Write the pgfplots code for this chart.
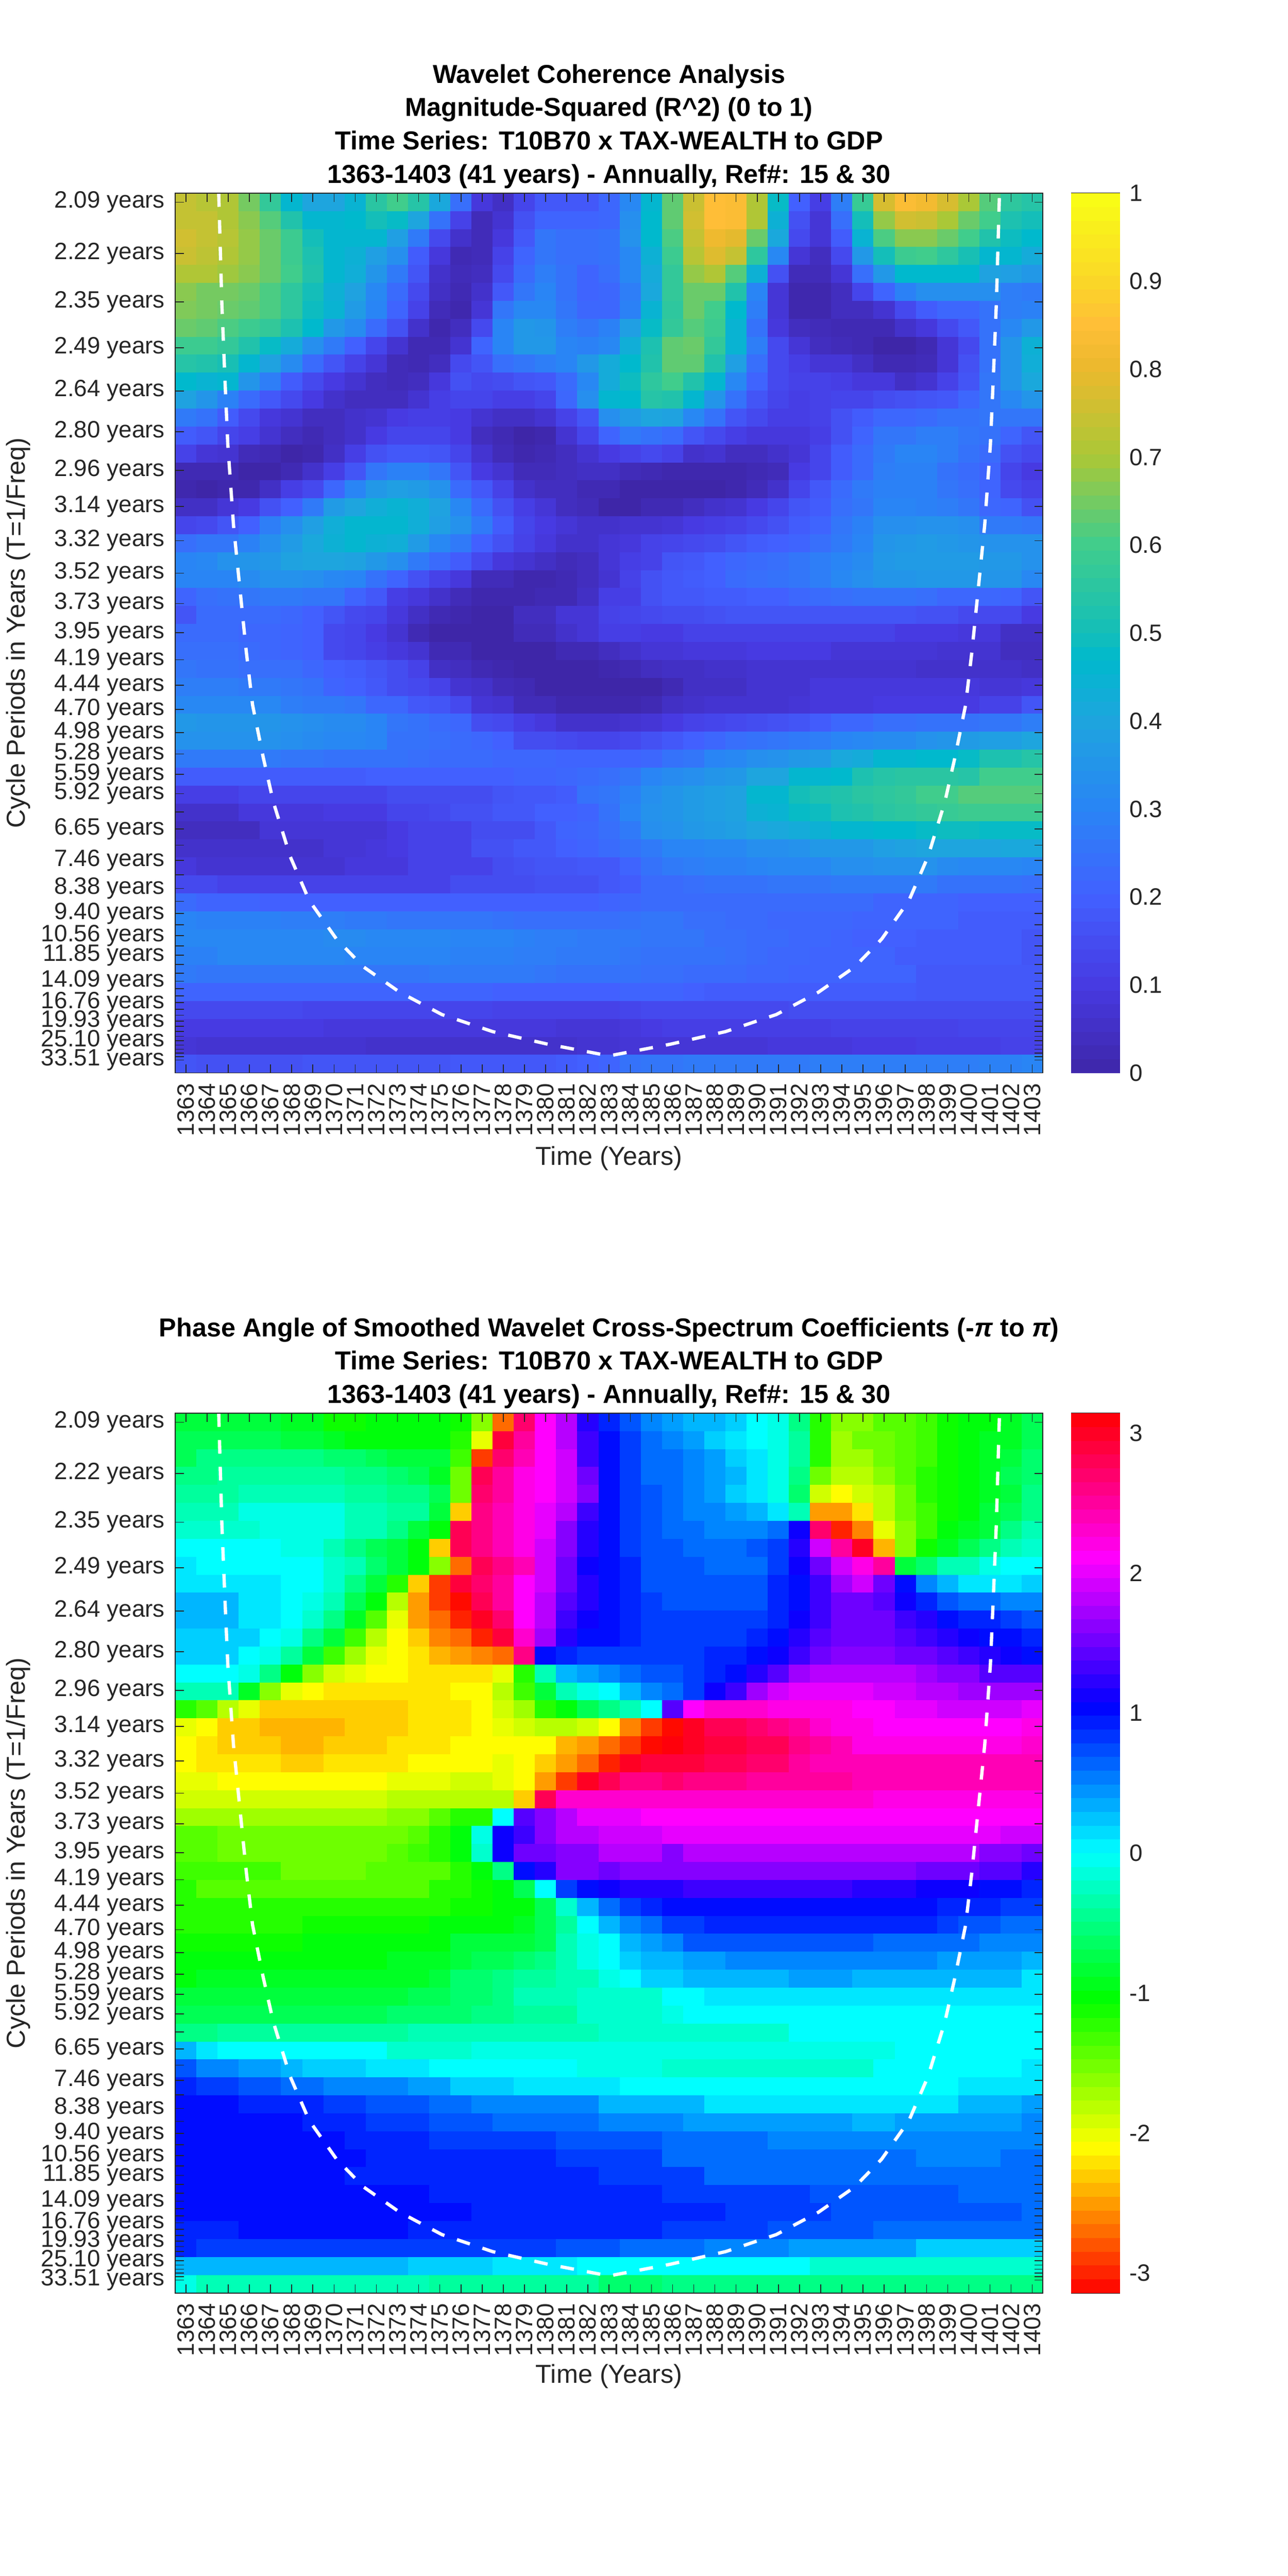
\documentclass[border=0pt]{standalone}
\usepackage{fontspec}
\setmainfont{Liberation Sans}
\usepackage{pgfplots}
\usepackage{pgfplotstable}
\pgfplotsset{compat=1.18}
\definecolor{tx}{rgb}{.15,.15,.15}
\pgfdeclareplotmark{cellmk}{\pgfpathrectangle{\pgfpoint{-3.24pt}{-2.755pt}}{\pgfpoint{6.48pt}{5.51pt}}\pgfusepathqfill}
\pgfdeclareplotmark{barmk}{\pgfpathrectangle{\pgfpoint{-7.4pt}{-2.11pt}}{\pgfpoint{14.8pt}{4.22pt}}\pgfusepathqfill}
\newcommand\tickfont{\fontsize{7.175}{7.5}\selectfont}
\pgfplotsset{
 colormap={coh}{rgb255(0pt)=(62,38,168); rgb255(10pt)=(71,58,226); rgb255(20pt)=(66,96,255); rgb255(30pt)=(41,133,245); rgb255(40pt)=(30,165,222); rgb255(47pt)=(0,185,205); rgb255(50pt)=(20,190,185); rgb255(60pt)=(64,205,140); rgb255(70pt)=(170,200,55); rgb255(80pt)=(235,185,45); rgb255(85pt)=(255,190,55); rgb255(90pt)=(250,215,40); rgb255(100pt)=(249,255,20)},
 colormap={ph}{rgb255(0pt)=(255,0,0); rgb255(1pt)=(255,255,0); rgb255(2pt)=(0,255,0); rgb255(3pt)=(0,255,255); rgb255(4pt)=(0,0,255); rgb255(5pt)=(255,0,255); rgb255(6pt)=(255,0,0)},
 base/.style={scale only axis, width=263.19pt, height=266.875pt, anchor=south west,
  xmin=1362.5, xmax=1403.5, ymin=0.5, ymax=49.5, y dir=reverse},
 frame/.style={base,
  tick align=inside, major tick length=2.6pt,
  axis line style={color=tx,line width=.3pt},
  tick style={color=tx,line width=.25pt},
  xtick={1363,1364,1365,1366,1367,1368,1369,1370,1371,1372,1373,1374,1375,1376,1377,1378,1379,1380,1381,1382,1383,1384,1385,1386,1387,1388,1389,1390,1391,1392,1393,1394,1395,1396,1397,1398,1399,1400,1401,1402,1403},
  xticklabels={1363,1364,1365,1366,1367,1368,1369,1370,1371,1372,1373,1374,1375,1376,1377,1378,1379,1380,1381,1382,1383,1384,1385,1386,1387,1388,1389,1390,1391,1392,1393,1394,1395,1396,1397,1398,1399,1400,1401,1402,1403},
  ytick={1.00,3.86,6.56,9.11,11.51,13.78,15.93,17.95,19.86,21.66,23.36,24.97,26.48,27.91,29.26,30.54,31.74,32.87,33.95,34.96,35.91,36.81,37.66,38.47,39.22,39.94,40.61,41.25,41.85,42.42,42.95,43.46,43.94,44.39,44.81,45.21,45.59,45.95,46.29,46.61,46.91,47.19,47.46,47.71,47.95,48.18,48.39,48.59,48.78},
  yticklabels={2.09 years,2.22 years,2.35 years,2.49 years,2.64 years,2.80 years,2.96 years,3.14 years,3.32 years,3.52 years,3.73 years,3.95 years,4.19 years,4.44 years,4.70 years,4.98 years,5.28 years,5.59 years,5.92 years,{},6.65 years,{},7.46 years,{},8.38 years,{},9.40 years,{},10.56 years,{},11.85 years,{},{},14.09 years,{},{},16.76 years,{},{},19.93 years,{},{},{},25.10 years,{},{},{},{},33.51 years},
  xticklabel style={yshift=-3pt,rotate=90,anchor=east,inner sep=0pt,text=tx,font=\tickfont},
  yticklabel style={xshift=-3pt,anchor=east,inner sep=0pt,text=tx,font=\tickfont},
 },
 barframe/.style={scale only axis, width=14.64pt, height=266.875pt, anchor=south west,
  xmin=0, xmax=1, xtick=\empty,
  tick align=inside, major tick length=2.6pt,
  axis line style={color=tx,line width=.3pt},
  tick style={color=tx,line width=.25pt},
  ytick pos=right, yticklabel pos=right,
  yticklabel style={xshift=2.75pt,anchor=west,inner sep=0pt,text=tx,font=\tickfont},
 },
 cell/.style={scatter, only marks, mark=cellmk, scatter src=explicit, scatter/use mapped color={draw=none,fill=mapped color}},
 bar/.style={scatter, only marks, mark=barmk, scatter src=explicit, scatter/use mapped color={draw=none,fill=mapped color}},
 coi/.style={white,line width=1pt,dash pattern=on 4.13pt off 4pt},
}
\pgfplotstableread[header=false]{
1 0
2 0
3 0
4 0
5 0
6 0
7 0
8 0
9 0
10 0
11 0
12 0
13 0
14 0
15 0
16 0
17 0
18 0
19 0
20 0
21 0
22 0
23 0
24 0
25 0
26 0
27 0
28 0
29 0
30 0
31 0
32 0
33 0
34 0
35 0
36 0
37 0
38 0
39 0
40 0
41 0
42 0
43 0
44 0
45 0
46 0
47 0
48 0
49 0
50 0
51 0
52 0
53 0
54 0
55 0
56 0
57 0
58 0
59 0
60 0
61 0
62 0
63 0
64 0
}\levels
\pgfplotstableread[header=false]{
74 72 71 65 57 46 40 40 45 55 60 54 41 24 9 5 13 18 18 18 22 31 46 63 75 85 84 71 48 20 11 28 58 77 84 82 77 70 62 56 54
74 74 71 67 62 53 46 46 47 50 48 40 25 12 3 7 16 21 21 21 22 33 47 63 76 85 84 71 44 16 8 24 50 68 76 75 70 64 60 52 50
76 74 72 68 64 59 50 46 46 46 38 27 14 6 3 9 18 26 24 24 25 34 47 61 74 81 79 64 41 14 8 19 45 61 67 67 64 60 53 49 47
75 73 71 68 64 59 52 46 44 38 33 19 9 2 3 12 21 26 24 24 25 31 44 59 72 78 74 56 31 8 4 14 36 50 59 60 56 51 46 46 42
71 71 69 67 64 60 53 46 43 35 27 17 6 3 4 14 23 28 25 21 24 31 42 57 68 71 62 44 16 3 3 8 24 36 47 47 47 47 39 38 36
67 65 65 64 61 56 50 44 39 31 23 14 5 2 6 18 26 30 25 21 22 28 41 57 64 64 53 30 8 1 1 4 13 21 29 33 33 33 33 28 27
66 65 64 63 61 56 49 45 37 30 21 12 3 1 8 26 31 31 26 22 22 29 45 56 64 60 47 28 8 1 1 4 4 7 14 19 22 22 25 28 29
64 63 61 59 57 52 47 36 32 23 16 6 1 4 14 30 36 35 28 26 29 38 48 57 62 59 45 25 9 4 3 2 2 2 6 9 14 18 25 31 36
59 59 57 53 48 42 33 27 20 13 7 2 2 7 21 30 36 36 30 29 31 43 52 63 64 57 45 28 14 8 4 3 2 0 0 2 8 14 25 35 44
54 53 51 46 39 32 23 17 12 8 3 2 4 14 17 24 26 28 30 36 42 47 53 63 63 53 38 24 14 11 8 8 5 2 2 3 8 16 25 35 43
47 45 46 35 28 19 14 10 7 4 3 4 9 16 14 15 17 18 23 31 42 49 56 60 53 46 31 21 14 12 12 11 9 9 5 7 12 17 26 35 41
39 35 29 23 18 14 10 6 4 4 4 7 11 13 13 11 11 13 22 33 46 47 54 53 46 35 25 17 13 11 12 13 13 15 16 17 18 22 26 31 35
27 25 19 14 9 7 4 4 6 7 10 11 11 10 7 5 5 7 12 17 33 37 40 39 31 25 17 14 11 11 12 16 19 22 22 23 25 25 26 26 26
19 17 13 11 7 4 2 4 6 10 13 13 13 10 4 2 0 1 7 13 21 27 25 23 17 14 11 9 9 9 11 16 21 26 26 28 28 26 25 21 17
12 8 7 3 2 0 1 5 11 16 18 18 17 13 7 3 1 2 4 7 10 12 14 12 6 7 4 4 6 8 13 19 23 27 30 30 28 25 23 16 14
2 2 2 0 0 2 6 11 17 26 29 29 26 17 10 7 3 3 4 5 5 3 2 1 1 1 1 2 3 10 13 19 23 28 29 29 25 23 21 13 10
1 0 1 1 5 11 14 22 30 36 38 37 34 23 18 12 6 4 4 2 2 0 0 0 0 0 1 3 6 13 18 23 27 29 29 29 26 24 21 14 12
5 5 8 10 16 20 27 37 40 43 45 43 39 31 23 16 11 8 4 3 0 0 2 2 4 6 7 10 13 17 19 24 26 30 30 29 28 26 22 21 16
13 14 17 20 28 33 38 43 46 46 46 43 38 34 27 19 13 10 8 6 6 7 7 8 10 11 12 14 16 19 21 26 29 33 33 34 34 33 27 27 26
24 26 26 29 33 37 41 44 46 44 43 37 31 27 20 16 12 9 6 6 8 9 12 13 14 15 17 19 20 21 24 27 30 35 36 37 36 35 34 34 34
30 31 34 35 36 39 40 40 39 36 33 27 23 19 14 9 7 5 3 4 8 11 12 17 18 20 22 23 24 26 28 30 32 36 37 37 37 37 36 36 34
30 30 30 32 34 34 33 31 30 25 21 16 12 9 3 3 1 1 2 4 7 12 16 18 19 20 23 24 25 26 28 31 33 35 35 36 36 36 35 35 31
21 24 25 26 27 27 26 26 21 18 11 9 6 3 1 1 1 2 2 5 11 11 16 18 18 19 19 20 20 22 23 24 25 25 25 24 22 22 22 21 17
17 23 23 23 23 22 20 17 14 13 9 5 2 1 0 0 4 4 8 8 12 13 14 15 15 16 17 17 17 17 17 17 17 17 17 16 16 14 14 14 10
23 23 23 22 22 21 20 14 13 10 7 2 0 0 0 0 3 3 6 8 11 11 10 10 12 12 12 12 12 12 12 12 12 12 10 10 10 9 9 5 5
24 24 24 23 22 21 20 14 13 11 9 7 2 2 0 0 0 0 2 2 4 6 8 8 9 9 9 10 10 10 10 8 8 8 8 8 7 7 7 4 4
26 25 25 24 24 24 22 20 19 17 15 12 5 4 2 1 0 0 0 0 1 2 4 5 5 6 6 7 7 7 7 7 7 7 7 6 6 6 6 6 5
28 28 28 27 27 26 25 21 20 18 15 14 12 7 6 3 2 0 0 0 0 0 0 2 5 5 5 7 7 7 9 9 9 9 9 9 9 9 8 8 9
31 31 31 31 31 28 27 27 26 22 22 18 17 14 8 7 3 3 1 1 1 1 2 5 6 7 7 7 7 8 9 9 9 10 10 10 10 10 12 12 17
36 35 35 35 35 34 33 32 32 30 26 25 23 22 15 14 11 9 6 6 6 7 8 10 12 13 14 15 16 17 19 22 22 24 24 25 25 25 26 26 28
34 34 34 34 34 33 32 31 31 30 25 25 24 23 22 20 15 15 14 13 13 14 16 18 20 22 24 25 26 27 28 30 31 32 32 34 35 37 38 38 40
27 27 27 27 27 26 26 25 25 25 25 24 23 23 23 22 22 22 21 21 21 21 22 25 26 30 31 33 34 36 37 41 42 46 46 47 47 48 52 52 54
19 19 19 19 19 19 19 19 19 20 20 20 20 20 20 20 21 21 22 23 24 26 30 32 33 35 36 40 40 46 46 47 52 54 55 55 55 54 60 60 60
11 11 11 13 13 13 13 13 13 13 15 15 15 15 15 17 18 18 19 25 26 29 33 35 37 38 39 46 46 50 52 53 55 56 57 60 60 62 62 62 62
6 6 6 9 9 9 9 10 10 10 13 13 14 16 16 18 18 20 20 21 25 30 34 35 37 38 39 44 45 48 49 52 53 55 56 57 58 59 59 59 59
4 4 4 4 8 8 8 8 8 8 10 12 12 12 15 15 15 18 21 22 24 27 33 34 36 37 38 40 41 42 44 46 46 47 47 48 49 49 48 48 48
6 6 6 6 6 6 6 8 8 9 10 12 12 12 16 16 18 18 20 21 23 25 27 30 30 31 31 33 33 34 36 36 36 38 39 40 40 40 40 41 41
9 7 7 7 7 7 7 7 9 9 9 12 12 12 12 15 16 17 17 18 18 21 25 27 28 29 29 30 31 31 31 33 33 34 34 34 32 31 31 31 30
14 14 12 12 12 12 12 12 12 12 12 12 12 15 15 15 15 16 16 16 18 19 23 23 24 25 25 25 26 26 26 27 27 27 27 27 25 25 25 25 24
23 21 21 21 20 20 20 20 20 20 20 20 20 20 20 20 20 20 20 20 21 22 23 23 23 23 23 23 23 23 23 23 23 21 21 21 21 20 20 20 20
30 29 29 29 29 28 28 28 27 27 26 26 26 26 26 25 24 24 24 24 24 25 26 26 24 24 23 23 22 22 22 22 21 21 21 21 21 19 19 19 19
31 31 31 31 31 31 31 32 32 31 31 31 31 30 30 30 29 28 28 27 27 27 26 26 26 24 24 23 23 22 22 21 20 20 20 19 19 19 19 19 17
29 29 31 31 31 31 31 31 30 30 30 30 30 29 29 29 28 28 27 27 27 26 25 25 25 25 24 23 22 22 21 21 21 21 19 19 19 19 19 19 17
27 26 26 26 26 26 26 26 26 26 26 26 27 27 27 27 27 26 25 25 25 25 24 24 23 23 23 22 22 21 21 21 21 21 21 18 18 18 18 18 18
21 21 21 21 21 21 21 21 21 21 21 21 21 21 21 20 20 20 20 20 20 21 21 21 20 19 19 19 19 19 19 19 19 19 19 18 18 18 18 18 18
14 14 14 14 14 14 13 13 13 13 13 13 13 13 13 12 12 12 12 12 12 13 14 14 14 14 14 14 14 15 15 15 15 15 15 15 15 15 15 15 15
10 10 10 10 10 10 10 9 9 9 9 9 9 9 9 9 9 9 8 8 8 9 10 11 11 11 11 11 11 11 11 12 12 12 12 12 12 13 13 13 13
8 7 7 7 7 7 7 7 7 6 6 6 6 6 6 6 6 6 6 7 7 8 8 8 8 8 8 8 9 9 9 9 10 10 10 11 11 11 11 12 12
17 16 16 16 16 16 17 17 17 17 17 17 17 18 18 18 18 18 19 20 21 25 26 26 27 27 27 27 27 27 28 28 28 28 28 28 28 28 29 29 30
}\tabA
\pgfplotstableread[header=false]{
-8 -8 -8 -8 -8 -9 -9 -11 -11 -10 -10 -10 -10 -11 -16 -27 27 21 18 12 9 7 5 4 3 3 2 0 -1 -5 -12 -16 -16 -14 -14 -13 -11 -10 -10 -9 -7
-7 -7 -7 -7 -7 -8 -8 -9 -10 -10 -10 -10 -10 -12 -20 29 25 21 18 13 10 8 6 5 4 2 1 0 -1 -4 -12 -17 -15 -15 -14 -13 -11 -10 -9 -9 -7
-7 -5 -5 -5 -5 -5 -5 -6 -6 -7 -8 -8 -8 -13 -29 27 24 21 19 13 10 8 6 6 5 4 2 1 -1 -4 -12 -17 -17 -15 -14 -13 -11 -10 -9 -8 -6
-5 -5 -4 -4 -4 -4 -4 -4 -5 -5 -6 -7 -9 -15 28 25 22 21 19 15 10 8 6 6 5 4 3 1 -1 -5 -15 -18 -18 -16 -14 -12 -11 -10 -9 -7 -6
-4 -4 -4 -3 -3 -3 -3 -3 -4 -4 -5 -5 -7 -15 27 25 22 21 19 16 10 8 7 6 5 4 2 1 -1 -6 -19 -21 -19 -18 -15 -12 -11 -10 -9 -8 -5
-3 -3 -3 -1 -1 -1 -1 -1 -3 -3 -4 -4 -8 -23 26 24 22 20 18 13 10 8 7 6 5 5 4 3 1 -3 -25 -25 -22 -18 -15 -13 -11 -10 -8 -7 -5
-2 -2 -2 -2 -1 -1 -1 -1 -3 -3 -5 -8 -10 28 26 24 22 20 16 12 10 8 7 6 6 5 5 5 6 11 27 -30 -26 -20 -16 -13 -10 -9 -8 -5 -3
0 0 0 0 0 -1 -1 -3 -5 -7 -8 -10 -23 28 26 24 22 19 16 12 10 8 7 7 6 6 6 7 8 12 19 25 30 -24 -16 -11 -9 -7 -5 -3 -2
1 0 0 0 0 0 0 -2 -3 -6 -8 -10 -16 -27 28 26 24 19 15 11 10 9 7 7 7 6 6 6 8 11 15 19 22 25 -8 -6 -3 -3 -1 0 0
1 1 1 1 1 0 0 -2 -5 -8 -12 -23 -29 29 27 25 21 19 15 12 10 9 7 7 7 7 7 7 9 10 13 17 19 15 10 5 3 1 1 1 2
3 3 3 1 1 0 -1 -3 -7 -10 -18 -25 -29 -31 28 25 21 18 14 12 10 9 8 7 7 7 7 7 9 10 13 15 15 14 11 9 7 6 6 5 5
3 3 3 1 1 0 -2 -5 -9 -14 -20 -25 -27 -30 30 27 21 18 13 11 10 9 8 8 8 8 8 8 9 11 13 15 15 15 13 12 10 9 9 8 7
2 2 2 2 0 -1 -5 -8 -13 -18 -21 -23 -26 -27 -30 29 23 17 12 10 10 9 8 8 8 8 8 9 10 12 14 15 15 15 14 13 12 11 10 10 9
2 2 2 0 -1 -4 -8 -13 -17 -20 -21 -22 -24 -25 -26 -27 26 10 9 8 8 8 8 8 8 9 9 10 11 13 15 16 16 16 15 15 14 13 12 11 10
0 0 0 -1 -5 -10 -16 -19 -20 -21 -21 -22 -22 -22 -22 -20 -12 -3 3 4 5 6 7 7 8 9 10 12 14 17 18 18 18 18 18 17 16 16 14 14 14
-3 -3 -3 -9 -16 -20 -21 -22 -22 -22 -22 -22 -22 -21 -21 -18 -13 -8 -3 -1 0 3 5 6 8 11 13 17 19 20 20 20 20 19 19 18 18 17 17 17 17
-12 -14 -18 -20 -23 -23 -23 -23 -23 -23 -23 -22 -22 -22 -21 -19 -17 -12 -10 -7 -5 -3 0 14 21 23 23 23 22 22 22 22 21 21 20 20 19 19 19 19 20
-20 -21 -23 -23 -24 -24 -24 -24 -23 -23 -23 -22 -22 -22 -21 -20 -19 -18 -18 -19 -21 -26 -29 -31 30 28 28 27 26 25 23 22 22 21 21 21 21 21 21 21 22
-21 -22 -23 -23 -23 -24 -24 -23 -23 -23 -22 -22 -22 -21 -21 -21 -21 -21 -24 -25 -27 -29 -31 31 30 29 29 28 28 26 25 24 22 22 22 22 22 22 22 22 23
-21 -22 -22 -22 -22 -23 -23 -22 -22 -22 -22 -21 -21 -21 -21 -20 -21 -23 -25 -27 -30 30 29 29 29 28 28 27 27 25 24 24 24 24 24 24 24 24 24 24 24
-20 -20 -21 -21 -21 -21 -21 -21 -21 -21 -20 -20 -20 -19 -19 -20 -21 -25 -29 30 28 26 26 27 26 26 26 25 25 25 25 25 24 24 24 24 24 24 24 24 24
-19 -19 -19 -19 -19 -19 -19 -19 -19 -19 -18 -18 -18 -18 -18 -18 -23 28 23 23 23 23 23 23 23 23 23 23 23 23 23 23 23 22 22 22 22 22 22 22 22
-17 -17 -17 -17 -17 -17 -17 -17 -17 -17 -16 -16 -14 -12 -12 0 14 16 18 20 20 20 21 21 21 21 21 21 21 21 21 21 21 21 21 21 21 21 21 21 21
-14 -14 -15 -15 -15 -15 -15 -15 -15 -15 -15 -14 -12 -10 -1 11 13 16 18 18 19 19 19 20 20 20 20 20 20 20 20 20 20 20 20 20 20 20 20 19 19
-14 -14 -15 -15 -15 -15 -15 -15 -15 -15 -14 -13 -12 -10 -2 11 15 15 16 16 18 18 18 16 18 18 18 18 18 18 18 18 18 18 18 18 18 18 16 16 15
-13 -13 -13 -13 -13 -15 -15 -15 -15 -14 -14 -14 -14 -12 -10 -5 10 12 16 16 15 16 16 16 16 16 16 16 16 16 16 16 16 16 16 15 15 15 14 14 12
-12 -14 -14 -14 -14 -14 -14 -14 -14 -14 -14 -14 -12 -12 -11 -10 -7 0 8 10 11 12 12 12 13 13 13 13 13 13 13 13 12 12 12 11 11 11 10 10 9
-12 -12 -12 -12 -12 -12 -12 -12 -12 -12 -12 -12 -12 -11 -11 -10 -10 -7 -2 3 6 8 9 10 10 10 10 10 10 10 10 10 10 10 10 10 9 9 9 8 8
-12 -12 -12 -12 -12 -12 -11 -11 -11 -11 -11 -11 -10 -10 -10 -10 -9 -7 -4 0 3 5 6 8 8 9 9 9 9 9 9 9 9 9 9 9 8 7 7 6 6
-11 -11 -11 -11 -11 -11 -10 -10 -10 -10 -10 -10 -10 -8 -8 -8 -8 -7 -3 -1 0 3 4 5 7 7 7 7 7 7 7 7 7 6 6 6 6 6 5 5 5
-10 -10 -10 -10 -10 -10 -10 -10 -10 -10 -9 -9 -9 -8 -7 -7 -6 -5 -3 -1 0 2 3 3 4 4 5 5 5 5 5 5 5 5 5 5 4 4 4 4 3
-10 -9 -9 -9 -9 -9 -9 -9 -9 -9 -9 -9 -8 -6 -6 -5 -4 -4 -3 -3 -1 0 2 2 3 3 3 3 3 4 4 4 3 3 3 3 3 3 3 3 1
-8 -8 -8 -8 -8 -8 -8 -8 -8 -8 -8 -7 -7 -6 -6 -5 -3 -3 -3 -2 -2 -2 -2 0 0 1 1 1 1 1 1 1 1 1 1 1 1 1 1 1 1
-7 -7 -7 -7 -7 -7 -7 -7 -7 -7 -6 -6 -6 -6 -5 -5 -4 -4 -4 -2 -2 -2 -2 -1 0 0 0 0 0 0 0 0 0 0 0 0 0 0 0 0 0
-5 -5 -4 -4 -4 -4 -4 -4 -4 -4 -4 -3 -3 -3 -3 -3 -3 -3 -3 -3 -2 -2 -2 -2 -2 -2 -2 -2 -2 0 0 0 0 0 0 0 0 0 0 0 0
3 1 0 0 0 0 0 0 0 0 -2 -2 -2 -2 -1 -1 -1 -1 -1 -1 -1 -1 -1 -1 -1 -1 -1 -1 -1 -1 -1 -1 -1 -1 0 0 0 0 0 0 0
7 5 5 4 4 3 2 2 2 1 1 1 0 0 0 0 0 0 0 -1 -1 -1 -1 -2 -2 -2 -2 -2 -2 -2 -2 -2 -2 0 0 0 0 0 0 0 1
9 8 8 7 7 6 6 5 5 5 5 4 4 2 2 2 1 1 1 1 1 0 0 0 0 0 0 0 0 0 0 0 0 0 0 0 0 1 1 1 1
10 10 10 9 9 9 9 8 8 7 7 7 6 6 5 5 5 5 5 5 3 3 3 3 3 1 1 1 1 1 1 1 1 1 1 1 1 3 3 3 4
10 10 10 10 10 10 9 9 9 8 8 8 7 7 7 6 6 6 6 6 5 5 5 5 4 4 4 4 4 4 4 4 3 3 4 4 4 4 4 4 5
10 10 10 10 10 10 10 10 9 9 9 9 8 8 8 8 8 8 7 7 7 7 7 6 6 6 6 6 5 5 5 5 5 5 5 5 5 5 5 5 5
10 10 10 10 10 10 10 10 10 9 9 9 9 9 9 9 9 9 8 8 8 8 8 6 6 6 6 6 6 6 6 6 6 6 6 5 5 5 5 6 6
10 10 10 10 10 10 10 10 9 9 9 9 9 9 9 9 9 9 9 9 8 8 8 8 8 6 6 6 6 6 6 6 6 6 6 6 6 6 6 6 6
10 10 10 10 10 10 10 10 10 10 10 10 9 9 9 9 9 9 9 9 9 9 9 8 8 8 8 8 8 8 7 7 7 7 7 7 7 6 6 6 6
10 10 10 10 10 10 10 10 10 10 10 10 10 10 9 9 9 9 9 9 9 9 9 9 9 9 8 8 8 8 8 7 7 7 7 7 7 7 7 7 6
9 9 9 10 10 10 10 10 10 10 10 9 9 9 9 9 9 9 9 9 9 9 9 8 8 8 8 8 7 7 7 7 7 6 6 6 6 6 6 6 6
9 8 8 8 8 8 8 8 8 8 8 8 8 8 8 8 8 8 7 7 7 6 6 6 6 5 5 5 5 4 4 4 4 4 4 2 2 2 2 2 2
3 3 3 3 3 3 3 3 3 3 3 2 2 2 2 1 1 1 1 0 0 0 0 0 0 0 0 0 0 0 -2 -2 -2 -2 -2 -2 -2 -2 -2 -2 -2
-1 -3 -3 -3 -3 -3 -3 -3 -3 -3 -3 -3 -4 -4 -4 -4 -4 -4 -4 -4 -6 -6 -6 -5 -5 -5 -5 -5 -5 -5 -5 -5 -5 -5 -5 -5 -5 -5 -5 -5 -5
}\tabB
\begin{document}
\begin{tikzpicture}
\useasboundingbox (0,0) rectangle (390.625pt,781.5pt);
% --- coherence: cells
\begin{axis}[base, hide axis, at={(53.19pt,456pt)}, colormap name=coh, point meta min=0, point meta max=1]
\pgfplotsinvokeforeach{0,...,40}{
  \addplot[cell] table[x expr={1363+#1}, y expr={\coordindex+1}, meta expr={\thisrowno{#1}/100}] {\tabA};
}
\end{axis}
\begin{axis}[base, hide axis, at={(53.19pt,456pt)}]
\addplot[coi] coordinates {(1364.55,0.5)(1364.7,6.7)(1364.85,11)(1364.98,14.5)(1365.25,19)(1365.55,22.5)(1365.85,26)(1366.15,29)(1366.65,31.9)(1367.13,34.4)(1367.93,37.45)(1368.83,39.9)(1370.12,42.05)(1371.4,43.6)(1373.1,45)(1375.1,46.25)(1377.5,47.2)(1380.1,47.9)(1383,48.55)(1385.9,47.9)(1388.5,47.2)(1390.9,46.25)(1392.9,45)(1394.6,43.6)(1395.88,42.05)(1397.17,39.9)(1398.07,37.45)(1398.87,34.4)(1399.35,31.9)(1399.85,29)(1400.15,26)(1400.45,22.5)(1400.75,19)(1401.02,14.5)(1401.15,11)(1401.3,6.7)(1401.45,0.5)};
\end{axis}
\begin{axis}[frame, at={(53.19pt,456pt)}]
\end{axis}
\begin{axis}[at={(325.06pt,456pt)}, barframe, ymin=0, ymax=1, colormap name=coh, point meta min=0, point meta max=1,
   ytick={0,0.1,0.2,0.3,0.4,0.5,0.6,0.7,0.8,0.9,1}, yticklabels={0,0.1,0.2,0.3,0.4,0.5,0.6,0.7,0.8,0.9,1}]
\addplot[bar] table[x expr={0.5}, y expr={(\thisrowno{0}-0.5)/64}, meta expr={(\thisrowno{0}-0.5)/64}] {\levels};
\end{axis}
\node[anchor=south,inner sep=0pt,align=center,text=black,font=\fontsize{7.875}{10.125}\bfseries\selectfont] at (184.79pt,724.1pt)
 {Wavelet Coherence Analysis\\Magnitude-Squared (R\^{}2) (0 to 1)\\Time Series: T10B70 x TAX-WEALTH to GDP\\1363-1403 (41 years) - Annually, Ref\#: 15 \& 30};
\node[text=tx,font=\fontsize{7.875}{8.5}\selectfont] at (184.79pt,430pt) {Time (Years)};
\node[rotate=90,text=tx,font=\fontsize{7.875}{8.5}\selectfont] at (5.6pt,589.44pt) {Cycle Periods in Years (T=1/Freq)};
% --- phase: cells
\begin{axis}[base, hide axis, at={(53.19pt,85.875pt)}, colormap name=ph, point meta min=-3.1416, point meta max=3.1416]
\pgfplotsinvokeforeach{0,...,40}{
  \addplot[cell] table[x expr={1363+#1}, y expr={\coordindex+1}, meta expr={\thisrowno{#1}/10}] {\tabB};
}
\end{axis}
\begin{axis}[base, hide axis, at={(53.19pt,85.875pt)}]
\addplot[coi] coordinates {(1364.55,0.5)(1364.7,6.7)(1364.85,11)(1364.98,14.5)(1365.25,19)(1365.55,22.5)(1365.85,26)(1366.15,29)(1366.65,31.9)(1367.13,34.4)(1367.93,37.45)(1368.83,39.9)(1370.12,42.05)(1371.4,43.6)(1373.1,45)(1375.1,46.25)(1377.5,47.2)(1380.1,47.9)(1383,48.55)(1385.9,47.9)(1388.5,47.2)(1390.9,46.25)(1392.9,45)(1394.6,43.6)(1395.88,42.05)(1397.17,39.9)(1398.07,37.45)(1398.87,34.4)(1399.35,31.9)(1399.85,29)(1400.15,26)(1400.45,22.5)(1400.75,19)(1401.02,14.5)(1401.15,11)(1401.3,6.7)(1401.45,0.5)};
\end{axis}
\begin{axis}[frame, at={(53.19pt,85.875pt)}]
\end{axis}
\begin{axis}[at={(325.06pt,85.875pt)}, barframe, ymin=-3.1416, ymax=3.1416, colormap name=ph, point meta min=-3.1416, point meta max=3.1416,
   ytick={-3,-2,-1,0,1,2,3}, yticklabels={-3,-2,-1,0,1,2,3}]
\addplot[bar] table[x expr={0.5}, y expr={-3.1416+(\thisrowno{0}-0.5)*6.2832/64}, meta expr={-3.1416+(\thisrowno{0}-0.5)*6.2832/64}] {\levels};
\end{axis}
\node[anchor=south,inner sep=0pt,align=center,text=black,font=\fontsize{7.875}{10.125}\bfseries\selectfont] at (184.79pt,353.95pt)
 {Phase Angle of Smoothed Wavelet Cross-Spectrum Coefficients (-{\itshape π} to {\itshape π})\\Time Series: T10B70 x TAX-WEALTH to GDP\\1363-1403 (41 years) - Annually, Ref\#: 15 \& 30};
\node[text=tx,font=\fontsize{7.875}{8.5}\selectfont] at (184.79pt,60.6pt) {Time (Years)};
\node[rotate=90,text=tx,font=\fontsize{7.875}{8.5}\selectfont] at (5.6pt,219.3pt) {Cycle Periods in Years (T=1/Freq)};
\end{tikzpicture}
\end{document}
